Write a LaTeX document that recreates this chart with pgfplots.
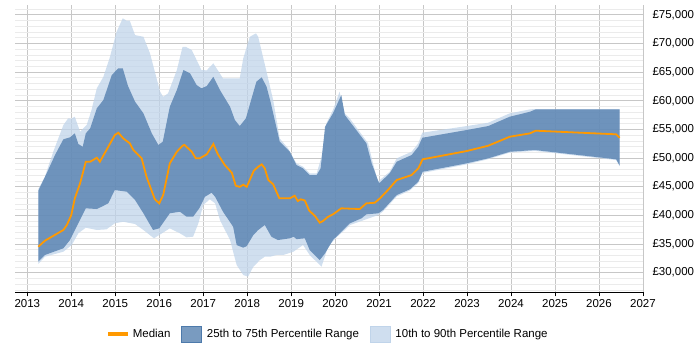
\documentclass[border=0pt]{standalone}
\usepackage{fontspec}
\setmainfont{Liberation Sans}
\usepackage{pgfplots}
\pgfplotsset{compat=1.18}
\usepgfplotslibrary{fillbetween}

\definecolor{medianc}{RGB}{255,153,0}
\definecolor{iqr}{RGB}{77,122,171}
\definecolor{idr}{RGB}{192,212,234}

\newcommand{\lbl}{\fontsize{11.5}{13}\selectfont}

\begin{document}
\begin{tikzpicture}
\begin{axis}[
  at={(0pt,0pt)}, anchor=south west,
  scale only axis,
  width=628pt, height=287.3pt,
  xmin=2012.72, xmax=2027,
  ymin=26580, ymax=76700,
  axis x line*=bottom,
  axis y line*=right,
  y axis line style={draw=none},
  x axis line style={black, line width=0.9pt},
  xtick={2013,2014,...,2027},
  ytick={30000,35000,...,75000},
  scaled y ticks=false,
  yticklabels={{£30,000},{£35,000},{£40,000},{£45,000},{£50,000},{£55,000},{£60,000},{£65,000},{£70,000},{£75,000}},
  minor ytick={27000,28000,...,76000},
  xmajorgrids, ymajorgrids, yminorgrids,
  major grid style={draw=black!22, line width=0.7pt},
  minor grid style={draw=black!8, line width=0.7pt},
  tick align=outside,
  major tick length=4pt,
  xtick style={black, line width=0.8pt},
  ytick style={draw=none},
  minor tick length=0pt,
  /pgf/number format/assume math mode=true,
  /pgf/number format/1000 sep={},
  tick label style={font=\lbl},
  yticklabel style={xshift=2pt},
  legend columns=3,
  legend style={at={(0.5,-0.108)}, anchor=north, draw=none, font=\lbl,
    /tikz/every odd column/.append style={column sep=3pt},
    /tikz/every even column/.append style={column sep=9pt}},
  legend cell align=left,
]

% legend entries
\addlegendimage{legend image code/.code={\fill[medianc] (0pt,-1.4pt) rectangle (19pt,1.4pt);}}
\addlegendentry{Median}
\addlegendimage{legend image code/.code={\fill[iqr, fill opacity=0.75] (0pt,-8pt) rectangle (20pt,8pt);}}
\addlegendentry{25th to 75th Percentile Range}
\addlegendimage{legend image code/.code={\fill[idr, fill opacity=0.75] (0pt,-8pt) rectangle (20pt,8pt);}}
\addlegendentry{10th to 90th Percentile Range}

% 90th percentile
\addplot[draw=none, forget plot, name path=p90] coordinates {
(2013.25,44600)(2013.40,46740)(2013.59,51100)(2013.82,55760)(2013.93,56930)(2014.00,56870)(2014.08,57210)(2014.20,54600)(2014.35,55760)(2014.46,58380)(2014.58,62160)(2014.73,64180)(2014.88,67670)(2015.03,72030)(2015.17,74380)(2015.26,73960)(2015.33,73960)(2015.45,71450)(2015.64,71160)(2015.79,68260)(2015.90,65050)(2016.02,61570)(2016.09,60690)(2016.20,61280)(2016.40,65350)(2016.53,69410)(2016.60,69410)(2016.74,68840)(2016.96,65350)(2017.08,65300)(2017.23,66520)(2017.45,63900)(2017.83,63900)(2017.91,67390)(2018.06,71160)(2018.20,71750)(2018.25,71160)(2018.44,65050)(2018.59,60120)(2018.74,53400)(2018.93,51700)(2019.12,49080)(2019.27,48490)(2019.42,47340)(2019.58,47340)(2019.69,50230)(2019.80,56050)(2019.95,58380)(2020.10,61570)(2020.22,57800)(2020.33,56930)(2020.75,52570)(2020.86,49080)(2020.97,45870)(2021.24,47610)(2021.40,49950)(2021.74,51100)(2021.89,52570)(2021.98,54420)(2022.99,55580)(2023.48,56160)(2023.97,57800)(2024.43,58490)(2024.54,58550)(2026.47,58550)
};
% 10th percentile
\addplot[draw=none, forget plot, name path=p10] coordinates {
(2013.25,31520)(2013.40,32790)(2013.82,33660)(2014.01,34830)(2014.16,36870)(2014.33,37850)(2014.58,37450)(2014.80,37560)(2014.99,38620)(2015.18,38890)(2015.45,38490)(2015.64,37450)(2015.88,36000)(2016.00,36570)(2016.24,37740)(2016.47,36870)(2016.62,36170)(2016.77,36280)(2016.89,38620)(2017.00,41810)(2017.15,42800)(2017.27,42100)(2017.38,39190)(2017.61,35700)(2017.76,31340)(2017.91,29600)(2018.02,29300)(2018.14,31050)(2018.29,32210)(2018.40,32790)(2018.52,32790)(2018.67,33090)(2018.82,33090)(2019.05,33660)(2019.27,34830)(2019.42,33090)(2019.69,31050)(2019.84,34530)(2020.03,36170)(2020.22,37450)(2020.33,38300)(2020.98,40060)(2021.09,40700)(2021.40,43300)(2021.70,44350)(2021.89,45650)(2021.99,47400)(2022.99,48900)(2023.48,49800)(2023.97,50950)(2024.54,51250)(2026.39,49650)(2026.47,48550)
};
% 75th percentile
\addplot[draw=none, forget plot, name path=p75] coordinates {
(2013.25,44300)(2013.44,47340)(2013.63,50530)(2013.82,53270)(2013.97,53610)(2014.08,54310)(2014.16,52450)(2014.26,51970)(2014.33,54310)(2014.43,55180)(2014.58,58670)(2014.73,60120)(2014.92,64480)(2015.07,65650)(2015.17,65650)(2015.29,62560)(2015.45,59830)(2015.64,57800)(2015.83,54310)(2015.98,52270)(2016.08,52850)(2016.24,58950)(2016.40,61860)(2016.55,65350)(2016.70,64780)(2016.85,62730)(2016.96,62160)(2017.08,62560)(2017.23,64180)(2017.38,61860)(2017.61,58950)(2017.72,56630)(2017.83,55580)(2017.97,56930)(2018.10,60420)(2018.21,63330)(2018.33,64080)(2018.44,62440)(2018.53,59830)(2018.67,55180)(2018.74,52850)(2018.97,51100)(2019.12,48780)(2019.27,48210)(2019.42,47040)(2019.58,47040)(2019.67,48210)(2019.77,55460)(2019.95,57800)(2020.14,60990)(2020.22,57500)(2020.33,56400)(2020.71,52570)(2020.83,49080)(2021.00,45590)(2021.24,47340)(2021.40,49360)(2021.74,50530)(2021.89,51970)(2021.98,53540)(2022.99,54890)(2023.48,55580)(2023.97,57210)(2024.43,58080)(2024.56,58490)(2026.47,58490)
};
% 25th percentile
\addplot[draw=none, forget plot, name path=p25] coordinates {
(2013.25,31920)(2013.40,33090)(2013.82,34260)(2013.97,35700)(2014.12,38020)(2014.33,41230)(2014.58,41110)(2014.69,41510)(2014.84,42100)(2014.99,44420)(2015.26,44130)(2015.45,42680)(2015.64,40360)(2015.86,37450)(2016.00,37740)(2016.24,40360)(2016.47,40640)(2016.62,39770)(2016.77,39770)(2016.91,41230)(2017.04,43250)(2017.19,43950)(2017.27,43250)(2017.45,40640)(2017.68,38020)(2017.76,34830)(2017.91,34360)(2017.99,34650)(2018.14,36570)(2018.25,37450)(2018.40,38320)(2018.55,36280)(2018.70,35700)(2018.97,36000)(2019.06,36280)(2019.12,35850)(2019.31,36000)(2019.42,33960)(2019.65,32210)(2019.77,33380)(2019.95,35700)(2020.18,37450)(2020.33,38600)(2020.60,39490)(2020.71,40180)(2020.98,40360)(2021.09,40940)(2021.40,43550)(2021.70,44550)(2021.89,45870)(2021.99,47610)(2022.99,49080)(2023.48,49950)(2023.97,51100)(2024.54,51400)(2026.39,49780)(2026.47,48660)
};

% percentile bands
\addplot[idr, fill opacity=0.75, draw=none, forget plot] fill between[of=p90 and p10];
\addplot[iqr, fill opacity=0.75, draw=none, forget plot] fill between[of=p75 and p25];

% median
\addplot[medianc, line width=1.8pt, forget plot] coordinates {
(2013.25,34530)(2013.40,35580)(2013.82,37450)(2013.90,38320)(2014.00,40060)(2014.08,42970)(2014.20,45590)(2014.33,49360)(2014.43,49360)(2014.58,50060)(2014.65,49360)(2014.80,51400)(2014.99,54020)(2015.07,54420)(2015.18,53440)(2015.33,52570)(2015.41,51400)(2015.60,49950)(2015.71,46740)(2015.90,42800)(2016.00,42100)(2016.09,43550)(2016.24,49080)(2016.40,51100)(2016.53,52150)(2016.57,52300)(2016.74,51100)(2016.83,49950)(2016.92,49950)(2017.08,50650)(2017.23,52450)(2017.33,50700)(2017.49,48780)(2017.65,47440)(2017.74,45170)(2017.83,44980)(2017.91,45350)(2017.99,44980)(2018.15,47790)(2018.25,48490)(2018.33,48900)(2018.40,48210)(2018.48,46170)(2018.59,45420)(2018.73,42980)(2018.97,42980)(2019.08,43430)(2019.15,42500)(2019.22,42800)(2019.31,42600)(2019.41,40820)(2019.54,39900)(2019.65,38720)(2019.72,39000)(2019.84,39770)(2019.95,40180)(2020.14,41230)(2020.33,41170)(2020.56,41110)(2020.71,42100)(2020.90,42200)(2021.02,42980)(2021.20,44420)(2021.40,46170)(2021.74,47040)(2021.89,48210)(2021.99,49780)(2022.99,51220)(2023.48,52150)(2023.97,53720)(2024.43,54310)(2024.56,54770)(2026.39,54140)(2026.47,53540)
};
\end{axis}
% page extent
\path (-15pt,-57.7pt) rectangle (685pt,292.3pt);
\end{tikzpicture}
\end{document}
